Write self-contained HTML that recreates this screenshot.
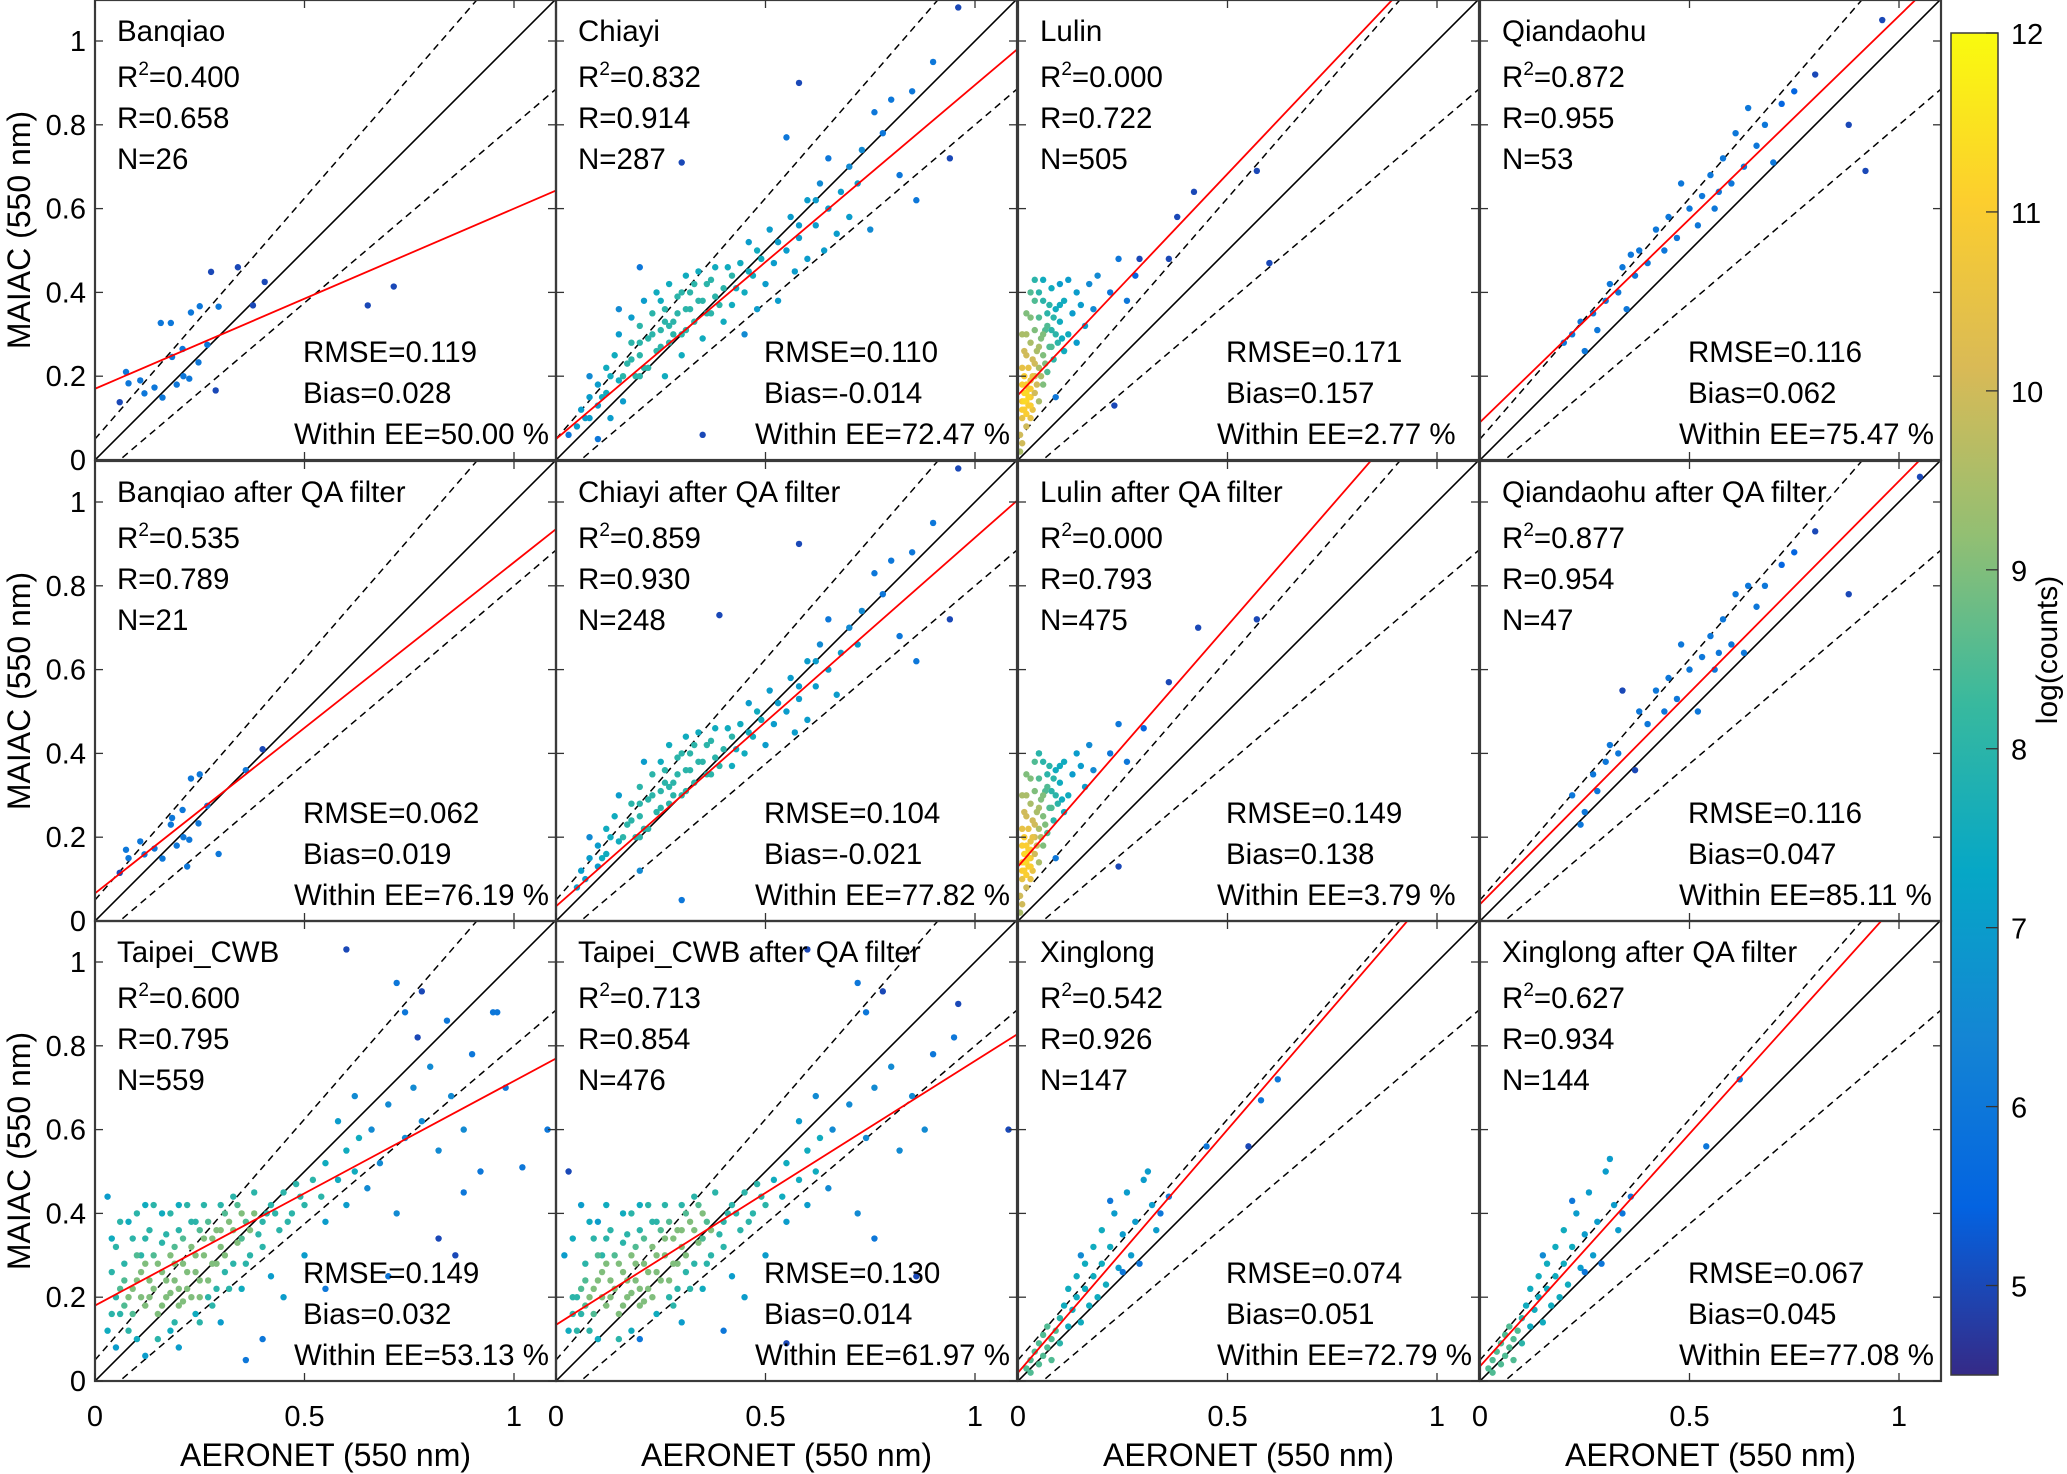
<!DOCTYPE html>
<html><head><meta charset="utf-8"><style>
html,body{margin:0;padding:0;background:#fff;}
svg{display:block;font-family:"Liberation Sans",Arial,sans-serif;}
</style></head><body>
<svg id="fig" width="2067" height="1474" viewBox="0 0 2067 1474" xmlns="http://www.w3.org/2000/svg">
<defs>
<linearGradient id="parula" x1="0" y1="1" x2="0" y2="0">
<stop offset="0" stop-color="#352a87"/><stop offset="0.125" stop-color="#0363e1"/><stop offset="0.25" stop-color="#1485d4"/><stop offset="0.375" stop-color="#06a7c6"/><stop offset="0.5" stop-color="#38b99e"/><stop offset="0.625" stop-color="#92bf73"/><stop offset="0.75" stop-color="#d9ba56"/><stop offset="0.875" stop-color="#fcce2e"/><stop offset="1" stop-color="#f9fb0e"/>
</linearGradient>
</defs>
<g id="panels"></g>
<g id="cbar"></g>
</svg>
<script>
const titles=["Banqiao","Chiayi","Lulin","Qiandaohu","Banqiao after QA filter","Chiayi after QA filter","Lulin after QA filter","Qiandaohu after QA filter","Taipei_CWB","Taipei_CWB after QA filter","Xinglong","Xinglong after QA filter"];
const r2Vals=["0.400","0.832","0.000","0.872","0.535","0.859","0.000","0.877","0.600","0.713","0.542","0.627"];
const rVals=["0.658","0.914","0.722","0.955","0.789","0.930","0.793","0.954","0.795","0.854","0.926","0.934"];
const nVals=["26","287","505","53","21","248","475","47","559","476","147","144"];
const rmseVals=["0.119","0.110","0.171","0.116","0.062","0.104","0.149","0.116","0.149","0.130","0.074","0.067"];
const biasVals=["0.028","-0.014","0.157","0.062","0.019","-0.021","0.138","0.047","0.032","0.014","0.051","0.045"];
const eeVals=["50.00","72.47","2.77","75.47","76.19","77.82","3.79","85.11","53.13","61.97","72.79","77.08"];
const fitSlope=[0.43,0.845,1.056,0.97,0.79,0.88,1.15,1.01,0.536,0.63,1.16,1.11];
const fitIntercept=[0.17,0.05,0.155,0.09,0.066,0.035,0.13,0.04,0.18,0.134,0.02,0.035];
const xTicks=[0,0.5,1];
const xTickLabels=["0","0.5","1"];
const yTicks=[0,0.2,0.4,0.6,0.8,1];
const yTickLabels=["0","0.2","0.4","0.6","0.8","1"];
const cbTicks=[5,6,7,8,9,10,11,12];

const ptsBanqiao=[[0.059,0.138,5],[0.074,0.21,6],[0.08,0.183,6],[0.108,0.19,6],[0.118,0.159,6],[0.142,0.173,6],[0.157,0.327,6],[0.161,0.149,6],[0.181,0.327,6],[0.184,0.246,6],[0.195,0.18,6],[0.209,0.265,6],[0.211,0.2,6],[0.225,0.194,6],[0.229,0.352,6],[0.247,0.233,6],[0.25,0.367,6],[0.268,0.275,6],[0.277,0.449,5],[0.288,0.166,5],[0.295,0.366,6],[0.341,0.46,5],[0.377,0.369,5],[0.405,0.425,5],[0.651,0.369,5],[0.713,0.414,5]];
const ptsBanqiaoQA=[[0.059,0.115,5],[0.074,0.17,6],[0.08,0.15,6],[0.108,0.19,6],[0.118,0.159,6],[0.142,0.173,6],[0.161,0.149,6],[0.181,0.23,6],[0.184,0.246,6],[0.195,0.18,6],[0.209,0.265,6],[0.211,0.2,6],[0.225,0.194,6],[0.229,0.34,6],[0.247,0.233,6],[0.25,0.35,6],[0.268,0.275,6],[0.295,0.16,6],[0.36,0.36,6],[0.4,0.41,5],[0.22,0.13,6]];
const ptsChiayi=[[0.05,0.08,7],[0.06,0.12,7],[0.08,0.15,7],[0.08,0.1,7],[0.1,0.18,7],[0.1,0.13,7],[0.12,0.22,7.5],[0.12,0.16,7.5],[0.13,0.1,7],[0.14,0.25,7.5],[0.15,0.19,7.5],[0.15,0.3,7],[0.16,0.14,7],[0.17,0.23,8],[0.18,0.28,8],[0.18,0.34,7],[0.19,0.2,8],[0.2,0.25,8],[0.2,0.32,8],[0.21,0.38,7],[0.22,0.22,8],[0.22,0.29,8],[0.23,0.35,8],[0.24,0.26,8],[0.24,0.4,7.5],[0.25,0.31,8],[0.26,0.2,7.5],[0.26,0.36,8],[0.27,0.28,8],[0.27,0.42,7.5],[0.28,0.33,8],[0.29,0.39,8],[0.3,0.25,7.5],[0.3,0.3,8],[0.31,0.36,8],[0.31,0.44,7.5],[0.32,0.4,8],[0.33,0.33,8],[0.34,0.38,8],[0.34,0.45,7.5],[0.35,0.29,7.5],[0.36,0.42,8],[0.37,0.35,8],[0.38,0.39,8],[0.38,0.46,7.5],[0.4,0.41,8],[0.4,0.33,7.5],[0.42,0.44,8],[0.42,0.37,7.5],[0.44,0.47,7.5],[0.45,0.4,7.5],[0.46,0.52,7],[0.47,0.44,7.5],[0.48,0.36,7],[0.49,0.48,7.5],[0.5,0.42,7],[0.51,0.55,7],[0.52,0.47,7],[0.53,0.38,7],[0.55,0.5,7],[0.56,0.58,7],[0.57,0.45,7],[0.58,0.53,7],[0.6,0.62,7],[0.6,0.48,7],[0.62,0.56,7],[0.63,0.66,6.5],[0.64,0.5,7],[0.65,0.6,7],[0.67,0.54,7],[0.68,0.64,7],[0.7,0.7,6.5],[0.7,0.58,7],[0.72,0.66,7],[0.73,0.74,6.5],[0.75,0.55,6.5],[0.76,0.83,6],[0.78,0.78,6],[0.8,0.86,6],[0.82,0.68,6],[0.85,0.88,6],[0.9,0.95,6],[0.94,0.72,5],[0.96,1.08,5],[0.55,0.77,6],[0.58,0.9,5],[0.3,0.71,5],[0.35,0.06,5],[0.1,0.05,6],[0.03,0.06,6],[0.2,0.46,6],[0.15,0.36,6.5],[0.45,0.3,6.5],[0.08,0.2,6.5],[0.65,0.72,6],[0.86,0.62,6]];
const ptsChiayiExtra=[[0.16,0.2,8],[0.18,0.24,8],[0.2,0.28,8],[0.21,0.22,8],[0.23,0.3,8],[0.25,0.27,8],[0.26,0.33,8],[0.28,0.3,8],[0.29,0.35,8],[0.3,0.4,8],[0.32,0.36,8],[0.33,0.42,8],[0.35,0.38,8],[0.36,0.35,8],[0.37,0.43,8],[0.39,0.37,8],[0.41,0.46,7.5],[0.43,0.41,7.5],[0.46,0.45,7.5],[0.48,0.5,7.5],[0.53,0.52,7],[0.58,0.56,7],[0.62,0.62,7],[0.13,0.2,7.5],[0.11,0.15,7.5],[0.07,0.1,7],[0.25,0.38,7.5],[0.2,0.2,8],[0.27,0.32,8],[0.31,0.31,8]];
const ptsChiayiQA=[[0.05,0.08,7],[0.06,0.12,7],[0.08,0.15,7],[0.1,0.18,7],[0.1,0.13,7],[0.12,0.22,7.5],[0.12,0.16,7.5],[0.14,0.25,7.5],[0.15,0.19,7.5],[0.15,0.3,7],[0.17,0.23,8],[0.18,0.28,8],[0.19,0.2,8],[0.2,0.25,8],[0.2,0.32,8],[0.21,0.38,7],[0.22,0.22,8],[0.22,0.29,8],[0.23,0.35,8],[0.24,0.26,8],[0.25,0.31,8],[0.26,0.36,8],[0.27,0.28,8],[0.27,0.42,7.5],[0.28,0.33,8],[0.29,0.39,8],[0.3,0.3,8],[0.31,0.36,8],[0.31,0.44,7.5],[0.32,0.4,8],[0.33,0.33,8],[0.34,0.38,8],[0.34,0.45,7.5],[0.36,0.42,8],[0.37,0.35,8],[0.38,0.39,8],[0.38,0.46,7.5],[0.4,0.41,8],[0.42,0.44,8],[0.42,0.37,7.5],[0.44,0.47,7.5],[0.45,0.4,7.5],[0.46,0.52,7],[0.47,0.44,7.5],[0.49,0.48,7.5],[0.5,0.42,7],[0.51,0.55,7],[0.52,0.47,7],[0.55,0.5,7],[0.56,0.58,7],[0.57,0.45,7],[0.58,0.53,7],[0.6,0.62,7],[0.6,0.48,7],[0.62,0.56,7],[0.63,0.66,6.5],[0.65,0.6,7],[0.67,0.54,7],[0.68,0.64,7],[0.7,0.7,6.5],[0.72,0.66,7],[0.73,0.74,6.5],[0.76,0.83,6],[0.78,0.78,6],[0.8,0.86,6],[0.82,0.68,6],[0.85,0.88,6],[0.9,0.95,6],[0.94,0.72,5],[0.96,1.08,5],[0.58,0.9,5],[0.39,0.73,5],[0.3,0.05,6],[0.2,0.12,6.5],[0.08,0.2,6.5],[0.65,0.72,6],[0.86,0.62,6]];
const ptsLulin=[[0.005,0.06,10],[0.01,0.1,10.5],[0.01,0.14,11],[0.01,0.18,11],[0.01,0.22,10.5],[0.015,0.12,11],[0.015,0.16,11.2],[0.015,0.2,11],[0.02,0.08,10],[0.02,0.11,11],[0.02,0.14,11.2],[0.02,0.18,11],[0.02,0.25,10],[0.025,0.13,11],[0.025,0.17,11],[0.025,0.22,10.5],[0.03,0.1,10.5],[0.03,0.15,10.8],[0.03,0.19,10.5],[0.03,0.28,9.5],[0.035,0.12,10.5],[0.035,0.24,10],[0.04,0.16,10],[0.04,0.2,10],[0.04,0.31,9],[0.045,0.26,9.5],[0.05,0.14,9.5],[0.05,0.22,9.5],[0.05,0.34,8.5],[0.055,0.29,9],[0.06,0.18,9],[0.06,0.25,9],[0.06,0.38,8],[0.065,0.31,8.5],[0.07,0.21,8.5],[0.07,0.35,8],[0.075,0.27,8.5],[0.08,0.41,7.5],[0.08,0.31,8],[0.085,0.24,8],[0.09,0.36,7.5],[0.095,0.28,8],[0.1,0.42,7],[0.1,0.33,7.5],[0.11,0.38,7.5],[0.11,0.26,7.5],[0.12,0.3,7.5],[0.12,0.43,7],[0.13,0.35,7],[0.14,0.4,7],[0.14,0.28,7],[0.15,0.37,7],[0.16,0.32,7],[0.17,0.42,6.5],[0.18,0.36,6.5],[0.19,0.44,6.5],[0.01,0.3,9.5],[0.02,0.35,9],[0.03,0.4,8.5],[0.005,0.02,9.5],[0.01,0.04,10],[0.04,0.43,8],[0.06,0.43,7.5],[0.22,0.4,6],[0.24,0.48,6],[0.26,0.38,6],[0.28,0.44,5.5],[0.29,0.48,5],[0.36,0.48,5],[0.38,0.58,5],[0.42,0.64,5],[0.57,0.69,5],[0.6,0.47,5],[0.23,0.13,5],[0.09,0.15,6]];
const ptsLulinExtra=[[0.01,0.12,11],[0.015,0.14,11.3],[0.02,0.16,11.3],[0.025,0.15,11.2],[0.03,0.13,11],[0.03,0.17,11],[0.035,0.2,10.5],[0.04,0.23,10],[0.045,0.18,10],[0.05,0.27,9.5],[0.055,0.2,9.5],[0.06,0.3,9],[0.065,0.23,9],[0.07,0.32,8.5],[0.075,0.37,8],[0.08,0.27,8.5],[0.085,0.34,8],[0.09,0.3,8],[0.1,0.37,7.5],[0.105,0.29,7.5],[0.02,0.3,9.5],[0.03,0.34,9],[0.015,0.26,10],[0.04,0.38,8.5],[0.05,0.4,8]];
const ptsLulinQA=[[0.005,0.06,10],[0.01,0.1,10.5],[0.01,0.14,11],[0.01,0.18,11],[0.01,0.22,10.5],[0.015,0.12,11],[0.015,0.16,11.2],[0.015,0.2,11],[0.02,0.08,10],[0.02,0.11,11],[0.02,0.14,11.2],[0.02,0.18,11],[0.02,0.25,10],[0.025,0.13,11],[0.025,0.17,11],[0.025,0.22,10.5],[0.03,0.1,10.5],[0.03,0.15,10.8],[0.03,0.19,10.5],[0.03,0.28,9.5],[0.035,0.12,10.5],[0.035,0.24,10],[0.04,0.16,10],[0.04,0.2,10],[0.04,0.31,9],[0.045,0.26,9.5],[0.05,0.14,9.5],[0.05,0.22,9.5],[0.05,0.34,8.5],[0.055,0.29,9],[0.06,0.18,9],[0.06,0.25,9],[0.06,0.38,8],[0.065,0.31,8.5],[0.07,0.21,8.5],[0.07,0.35,8],[0.075,0.27,8.5],[0.08,0.31,8],[0.085,0.24,8],[0.09,0.36,7.5],[0.095,0.28,8],[0.1,0.33,7.5],[0.11,0.38,7.5],[0.11,0.26,7.5],[0.12,0.3,7.5],[0.13,0.35,7],[0.14,0.4,7],[0.15,0.37,7],[0.16,0.32,7],[0.17,0.42,6.5],[0.18,0.36,6.5],[0.01,0.3,9.5],[0.02,0.35,9],[0.005,0.02,9.5],[0.01,0.04,10],[0.05,0.4,7.5],[0.22,0.4,6],[0.24,0.47,6],[0.26,0.38,6],[0.3,0.46,5.5],[0.36,0.57,5],[0.43,0.7,5],[0.57,0.72,5],[0.24,0.13,5],[0.09,0.15,6]];
const ptsQiandaohu=[[0.2,0.28,6],[0.22,0.3,6],[0.24,0.33,6],[0.25,0.26,6],[0.27,0.35,6],[0.28,0.31,6],[0.3,0.38,6],[0.31,0.42,6],[0.33,0.4,6],[0.34,0.46,6],[0.35,0.36,6],[0.37,0.44,6],[0.38,0.5,6],[0.4,0.47,6],[0.42,0.55,6],[0.44,0.5,6],[0.45,0.58,6],[0.47,0.53,6],[0.5,0.6,6],[0.52,0.56,6],[0.53,0.63,6],[0.55,0.68,6],[0.57,0.64,6],[0.58,0.72,6],[0.6,0.66,6],[0.61,0.78,6],[0.63,0.7,6],[0.64,0.84,6],[0.66,0.75,6],[0.68,0.8,6],[0.7,0.71,6],[0.72,0.85,5.5],[0.75,0.88,5.5],[0.8,0.92,5],[0.88,0.8,5],[0.92,0.69,5],[0.96,1.05,5],[0.48,0.66,6],[0.56,0.6,6],[0.36,0.49,6]];
const ptsQiandaohuQA=[[0.22,0.3,6],[0.24,0.23,6],[0.25,0.26,6],[0.27,0.35,6],[0.28,0.31,6],[0.3,0.38,6],[0.31,0.42,6],[0.33,0.4,6],[0.34,0.55,5],[0.37,0.36,5],[0.38,0.5,6],[0.4,0.47,6],[0.42,0.55,6],[0.44,0.5,6],[0.45,0.58,6],[0.47,0.53,6],[0.5,0.6,6],[0.52,0.5,6],[0.53,0.63,6],[0.55,0.68,6],[0.57,0.64,6],[0.58,0.72,6],[0.6,0.66,6],[0.61,0.78,6],[0.63,0.64,6],[0.64,0.8,6],[0.66,0.75,6],[0.68,0.8,6],[0.72,0.85,5.5],[0.75,0.88,5.5],[0.8,0.93,5],[0.88,0.78,5],[1.05,1.06,5],[0.48,0.66,6],[0.56,0.6,6]];
const ptsTaipei=[[0.08,0.2,9],[0.1,0.24,9],[0.12,0.18,9],[0.12,0.28,9],[0.14,0.22,9],[0.15,0.16,9],[0.16,0.26,9],[0.17,0.2,9],[0.18,0.3,9],[0.19,0.24,9],[0.2,0.18,9],[0.21,0.28,9],[0.22,0.22,9],[0.23,0.32,9],[0.24,0.26,9],[0.25,0.2,9],[0.26,0.3,9],[0.27,0.24,9],[0.28,0.34,9],[0.29,0.28,9],[0.3,0.36,9],[0.31,0.3,9],[0.32,0.38,9],[0.34,0.33,9],[0.35,0.4,9],[0.37,0.36,9],[0.38,0.4,9],[0.04,0.26,8],[0.05,0.32,8],[0.06,0.16,8],[0.06,0.38,8],[0.07,0.28,8],[0.08,0.12,8],[0.09,0.34,8],[0.1,0.4,8],[0.11,0.3,8],[0.13,0.36,8],[0.14,0.42,8],[0.15,0.1,8],[0.16,0.33,8],[0.18,0.4,8],[0.19,0.14,8],[0.2,0.36,8],[0.22,0.42,8],[0.24,0.38,8],[0.25,0.14,8],[0.26,0.42,8],[0.28,0.18,8],[0.3,0.42,8],[0.32,0.22,8],[0.33,0.44,8],[0.36,0.28,8],[0.38,0.45,8],[0.4,0.32,8],[0.4,0.38,8],[0.42,0.42,8],[0.44,0.36,8],[0.45,0.45,8],[0.47,0.4,8],[0.48,0.47,8],[0.5,0.42,8],[0.52,0.48,8],[0.54,0.44,8],[0.55,0.52,7.5],[0.58,0.48,7.5],[0.6,0.55,7.5],[0.62,0.5,7.5],[0.63,0.58,7.5],[0.03,0.44,7],[0.05,0.08,7],[0.12,0.06,7],[0.2,0.08,7],[0.3,0.14,7],[0.42,0.25,7],[0.45,0.2,7],[0.5,0.3,7],[0.55,0.38,7],[0.58,0.62,7],[0.6,0.42,7],[0.62,0.68,6.5],[0.65,0.46,6.5],[0.66,0.6,6.5],[0.68,0.52,6.5],[0.7,0.66,6.5],[0.72,0.4,6.5],[0.74,0.58,6.5],[0.76,0.7,6.5],[0.78,0.62,6.5],[0.8,0.75,6.5],[0.82,0.55,6.5],[0.85,0.68,6.5],[0.88,0.6,6.5],[0.9,0.78,6],[0.92,0.5,6],[0.95,0.88,6],[0.98,0.7,6],[1.02,0.51,6],[0.74,0.88,6],[0.6,1.03,5],[0.72,0.95,6],[0.78,0.93,5],[0.84,0.86,6],[0.88,0.45,6],[0.96,0.88,6],[0.86,0.3,5],[0.7,0.25,6],[0.55,0.22,6],[0.4,0.1,6],[0.36,0.05,6],[1.08,0.6,6],[0.82,0.34,5],[0.77,0.82,5]];
const ptsTaipeiExtra=[[0.09,0.22,9],[0.11,0.26,9],[0.13,0.2,9],[0.13,0.24,9],[0.15,0.28,9],[0.16,0.18,9],[0.17,0.24,9],[0.18,0.21,9],[0.19,0.28,9],[0.2,0.22,9],[0.21,0.19,9],[0.22,0.26,9],[0.23,0.2,9],[0.24,0.3,9],[0.25,0.24,9],[0.26,0.34,9],[0.27,0.38,8.5],[0.28,0.28,9],[0.29,0.36,9],[0.3,0.32,9],[0.31,0.4,8.5],[0.33,0.36,9],[0.34,0.42,8.5],[0.36,0.38,8.5],[0.07,0.18,8.5],[0.06,0.22,8.5],[0.05,0.2,8],[0.04,0.16,8],[0.07,0.24,8.5],[0.09,0.16,8.5],[0.1,0.3,8.5],[0.11,0.2,9],[0.12,0.34,8],[0.14,0.3,8.5],[0.17,0.35,8],[0.19,0.32,8.5],[0.21,0.34,8.5],[0.23,0.38,8],[0.25,0.36,8.5],[0.27,0.2,8],[0.29,0.22,8],[0.31,0.26,8],[0.33,0.28,8],[0.35,0.34,8.5],[0.37,0.3,8],[0.39,0.35,8],[0.41,0.4,8],[0.43,0.4,8],[0.46,0.38,8],[0.49,0.44,8],[0.03,0.12,7.5],[0.04,0.34,7.5],[0.08,0.38,7.5],[0.12,0.42,7.5],[0.16,0.4,7.5],[0.2,0.42,7.5],[0.1,0.1,7.5],[0.18,0.12,7.5],[0.24,0.16,7.5],[0.35,0.22,7.5]];
const ptsTaipeiQA=[[0.08,0.2,9],[0.1,0.24,9],[0.12,0.18,9],[0.12,0.28,9],[0.14,0.22,9],[0.15,0.16,9],[0.16,0.26,9],[0.17,0.2,9],[0.18,0.3,9],[0.19,0.24,9],[0.2,0.18,9],[0.21,0.28,9],[0.22,0.22,9],[0.23,0.32,9],[0.24,0.26,9],[0.26,0.3,9],[0.27,0.24,9],[0.28,0.34,9],[0.29,0.28,9],[0.3,0.36,9],[0.31,0.3,9],[0.32,0.38,9],[0.34,0.33,9],[0.35,0.4,9],[0.37,0.36,9],[0.04,0.2,8],[0.05,0.12,8],[0.06,0.16,8],[0.07,0.28,8],[0.08,0.12,8],[0.09,0.34,8],[0.11,0.3,8],[0.13,0.36,8],[0.15,0.1,8],[0.16,0.33,8],[0.18,0.4,8],[0.2,0.36,8],[0.22,0.42,8],[0.24,0.38,8],[0.26,0.42,8],[0.28,0.18,8],[0.3,0.42,8],[0.32,0.22,8],[0.33,0.44,8],[0.36,0.28,8],[0.38,0.45,8],[0.4,0.32,8],[0.4,0.38,8],[0.42,0.42,8],[0.44,0.36,8],[0.45,0.45,8],[0.47,0.4,8],[0.48,0.47,8],[0.5,0.42,8],[0.52,0.48,7.5],[0.54,0.44,7.5],[0.55,0.52,7.5],[0.58,0.48,7.5],[0.6,0.55,7.5],[0.62,0.5,7.5],[0.63,0.58,7.5],[0.02,0.3,7],[0.1,0.38,7],[0.06,0.42,7],[0.3,0.14,7],[0.42,0.25,7],[0.45,0.2,7],[0.5,0.3,7],[0.55,0.38,7],[0.58,0.62,7],[0.6,0.42,7],[0.62,0.68,6.5],[0.65,0.46,6.5],[0.66,0.6,6.5],[0.7,0.66,6.5],[0.72,0.4,6.5],[0.74,0.58,6.5],[0.76,0.7,6.5],[0.8,0.75,6.5],[0.82,0.55,6.5],[0.85,0.68,6.5],[0.88,0.6,6.5],[0.9,0.78,6],[0.95,0.82,6],[0.74,0.88,6],[0.6,1.03,5],[0.72,0.95,6],[0.78,0.93,5],[0.96,0.9,5],[0.86,0.25,5],[0.55,0.09,5],[0.4,0.12,6],[1.08,0.6,5],[0.76,0.34,6],[0.2,0.1,6],[0.03,0.5,5]];
const ptsXinglong=[[0.02,0.03,8.5],[0.03,0.05,8.5],[0.03,0.02,8.5],[0.04,0.07,8.5],[0.05,0.04,8.5],[0.05,0.09,8.5],[0.06,0.06,8.5],[0.06,0.11,8.5],[0.07,0.08,8.5],[0.07,0.13,8.5],[0.08,0.1,8.5],[0.08,0.05,8.5],[0.09,0.12,8.5],[0.1,0.15,8],[0.1,0.09,8],[0.11,0.18,7.5],[0.12,0.13,7.5],[0.12,0.22,7.5],[0.13,0.17,7.5],[0.14,0.25,7.5],[0.14,0.2,7.5],[0.15,0.14,7.5],[0.16,0.28,7.5],[0.16,0.22,7.5],[0.17,0.18,7.5],[0.18,0.32,7.5],[0.18,0.25,7.5],[0.19,0.2,7.5],[0.2,0.36,7.5],[0.2,0.28,7.5],[0.21,0.23,7.5],[0.22,0.32,7.5],[0.23,0.4,7],[0.24,0.27,7],[0.25,0.35,7],[0.26,0.45,7],[0.27,0.3,7],[0.28,0.38,7],[0.3,0.48,7],[0.31,0.5,7],[0.32,0.42,7],[0.33,0.36,7],[0.22,0.43,6],[0.25,0.26,6],[0.29,0.28,6],[0.34,0.4,6],[0.36,0.44,6],[0.45,0.56,6],[0.55,0.56,5],[0.58,0.67,6],[0.62,0.72,6],[0.15,0.3,6.5]];
const ptsXinglongQA=[[0.02,0.03,8.5],[0.03,0.05,8.5],[0.03,0.02,8.5],[0.04,0.07,8.5],[0.05,0.04,8.5],[0.05,0.09,8.5],[0.06,0.06,8.5],[0.06,0.11,8.5],[0.07,0.08,8.5],[0.07,0.13,8.5],[0.08,0.1,8.5],[0.08,0.05,8.5],[0.09,0.12,8.5],[0.1,0.15,8],[0.1,0.09,8],[0.11,0.18,7.5],[0.12,0.13,7.5],[0.12,0.22,7.5],[0.13,0.17,7.5],[0.14,0.25,7.5],[0.14,0.2,7.5],[0.15,0.14,7.5],[0.16,0.28,7.5],[0.16,0.22,7.5],[0.17,0.18,7.5],[0.18,0.32,7.5],[0.18,0.25,7.5],[0.19,0.2,7.5],[0.2,0.36,7.5],[0.2,0.28,7.5],[0.21,0.23,7.5],[0.22,0.32,7.5],[0.23,0.4,7],[0.24,0.27,7],[0.25,0.35,7],[0.26,0.45,7],[0.27,0.3,7],[0.28,0.38,7],[0.3,0.5,7],[0.31,0.53,7],[0.32,0.42,7],[0.33,0.36,7],[0.22,0.43,6],[0.25,0.26,6],[0.29,0.28,6],[0.34,0.4,6],[0.36,0.44,6],[0.54,0.56,6],[0.62,0.72,6],[0.15,0.3,6.5]];
const panelPoints=[ptsBanqiao,ptsChiayi.concat(ptsChiayiExtra),ptsLulin.concat(ptsLulinExtra),ptsQiandaohu,ptsBanqiaoQA,ptsChiayiQA.concat(ptsChiayiExtra),ptsLulinQA.concat(ptsLulinExtra),ptsQiandaohuQA,ptsTaipei.concat(ptsTaipeiExtra),ptsTaipeiQA.concat(ptsTaipeiExtra),ptsXinglong,ptsXinglongQA];

const NS="http://www.w3.org/2000/svg";
const colLeft=[95,556,1018,1480], rowTop=[0,461,921], W=461, H=460, S=419, XMAX=1.1, YMAX=1.1;
const CMIN=4.5, CMAX=12.0;
const stops=[[0,[53,42,135]],[0.125,[3,99,225]],[0.25,[20,133,212]],[0.375,[6,167,198]],[0.5,[56,185,158]],[0.625,[146,191,115]],[0.75,[217,186,86]],[0.875,[252,206,46]],[1,[249,251,14]]];
function cmap(v){let t=(v-CMIN)/(CMAX-CMIN);t=Math.max(0,Math.min(1,t));for(let i=1;i<stops.length;i++){if(t<=stops[i][0]){const a=stops[i-1],b=stops[i];const f=(t-a[0])/(b[0]-a[0]);const c=a[1].map((x,k)=>Math.round(x+(b[1][k]-x)*f));return `rgb(${c[0]},${c[1]},${c[2]})`;}}return "rgb(249,251,14)";}
function mk(tag,attrs,parent){const e=document.createElementNS(NS,tag);for(const k in attrs)e.setAttribute(k,attrs[k]);parent.appendChild(e);return e;}
const root=document.getElementById('panels');
const defs=document.querySelector('defs');
for(let p=0;p<12;p++){
  const col=p%4,row=Math.floor(p/4);
  const L=colLeft[col],T=rowTop[row],B=T+H;
  const sx=v=>L+v*S, sy=v=>B-v*S;
  const g=mk('g',{},root);
  
  
  const cp=mk('clipPath',{id:'cp'+p},defs);mk('rect',{x:L,y:T,width:W,height:H},cp);
  const lines=mk('g',{'clip-path':'url(#cp'+p+')'},g);
  const l1=mk('line',{x1:sx(0),y1:sy(0),x2:sx(XMAX),y2:sy(XMAX),stroke:'#000','stroke-width':1.6},lines);
  
  
  const eu=mk('line',{x1:sx(0),y1:sy(0.05),x2:sx(XMAX),y2:sy(0.05+1.15*XMAX),stroke:'#000','stroke-width':1.5,'stroke-dasharray':'7,5'},lines);
  
  
  const el=mk('line',{x1:sx(0),y1:sy(-0.05),x2:sx(XMAX),y2:sy(-0.05+0.85*XMAX),stroke:'#000','stroke-width':1.5,'stroke-dasharray':'7,5'},lines);
  
  
  const pts=mk('g',{},lines);
  
  
  panelPoints[p].forEach(d=>{const c=mk('circle',{cx:sx(d[0]),cy:sy(d[1]),r:3.2,fill:cmap(d[2])},pts);
    
    });
  const fl=mk('line',{x1:sx(0),y1:sy(fitIntercept[p]),x2:sx(XMAX),y2:sy(fitIntercept[p]+fitSlope[p]*XMAX),stroke:'#ff0000','stroke-width':1.8},lines);
  
  
  const fr=mk('rect',{x:L,y:T,width:W,height:H,fill:'none',stroke:'#3a3a3a','stroke-width':2.2},g);
  
  
  xTicks.forEach(v=>{mk('line',{x1:sx(v),y1:B,x2:sx(v),y2:B-8,stroke:'#333','stroke-width':1.3},g);mk('line',{x1:sx(v),y1:T,x2:sx(v),y2:T+8,stroke:'#333','stroke-width':1.3},g);});
  yTicks.forEach(v=>{mk('line',{x1:L,y1:sy(v),x2:L+8,y2:sy(v),stroke:'#333','stroke-width':1.3},g);mk('line',{x1:L+W,y1:sy(v),x2:L+W-8,y2:sy(v),stroke:'#333','stroke-width':1.3},g);});
  const fs=29.5, tx=L+22;
  const t1=mk('text',{x:tx,y:T+41,'font-size':fs},g);t1.textContent=titles[p];
  
  
  const t2=mk('text',{x:tx,y:T+87,'font-size':fs},g);
  
  
  t2.innerHTML='R<tspan font-size="19" dy="-12">2</tspan><tspan dy="12">='+r2Vals[p]+'</tspan>';
  const t3=mk('text',{x:tx,y:T+128,'font-size':fs},g);t3.textContent='R='+rVals[p];
  
  
  const t4=mk('text',{x:tx,y:T+169,'font-size':fs},g);t4.textContent='N='+nVals[p];
  
  
  const t5=mk('text',{x:L+208,y:T+362,'font-size':fs},g);t5.textContent='RMSE='+rmseVals[p];
  
  
  const t6=mk('text',{x:L+208,y:T+403,'font-size':fs},g);t6.textContent='Bias='+biasVals[p];
  
  
  const t7=mk('text',{x:L+199,y:T+444,'font-size':fs},g);t7.textContent='Within EE='+eeVals[p]+' %';
  
  
  if(col===0){
    yTicks.forEach((v,i)=>{const t=mk('text',{x:L-9,y:sy(v)+10,'font-size':29,'text-anchor':'end'},g);t.textContent=yTickLabels[i];
      
      });
    const yt=mk('text',{x:0,y:0,'font-size':32,'text-anchor':'middle',transform:`translate(30,${T+H/2}) rotate(-90)`},g);
    yt.textContent='MAIAC (550 nm)';
    
    
  }
  if(row===2){
    xTicks.forEach((v,i)=>{const t=mk('text',{x:sx(v),y:B+45,'font-size':29,'text-anchor':'middle'},g);t.textContent=xTickLabels[i];
      
      });
    const xt=mk('text',{x:L+W/2,y:1466,'font-size':32,'text-anchor':'middle'},g);
    xt.textContent='AERONET (550 nm)';
    
    
  }
}
const cb=document.getElementById('cbar');


const CBX=1951,CBW=47,CBT=33,CBB=1375;
const cy=v=>CBB-(v-CMIN)/(CMAX-CMIN)*(CBB-CBT);
mk('rect',{x:CBX,y:CBT,width:CBW,height:CBB-CBT,fill:'url(#parula)',stroke:'#3a3a3a','stroke-width':1.5},cb);
cbTicks.forEach(v=>{mk('line',{x1:CBX+CBW-12,y1:cy(v),x2:CBX+CBW,y2:cy(v),stroke:'#333','stroke-width':1.3},cb);
  const t=mk('text',{x:2011,y:cy(v)+11,'font-size':29},cb);t.textContent=String(v);
  
  });
const ct=mk('text',{x:0,y:0,'font-size':30,'text-anchor':'middle',transform:'translate(2057,650) rotate(-90)'},cb);
ct.textContent='log(counts)';


</script>
</body></html>
